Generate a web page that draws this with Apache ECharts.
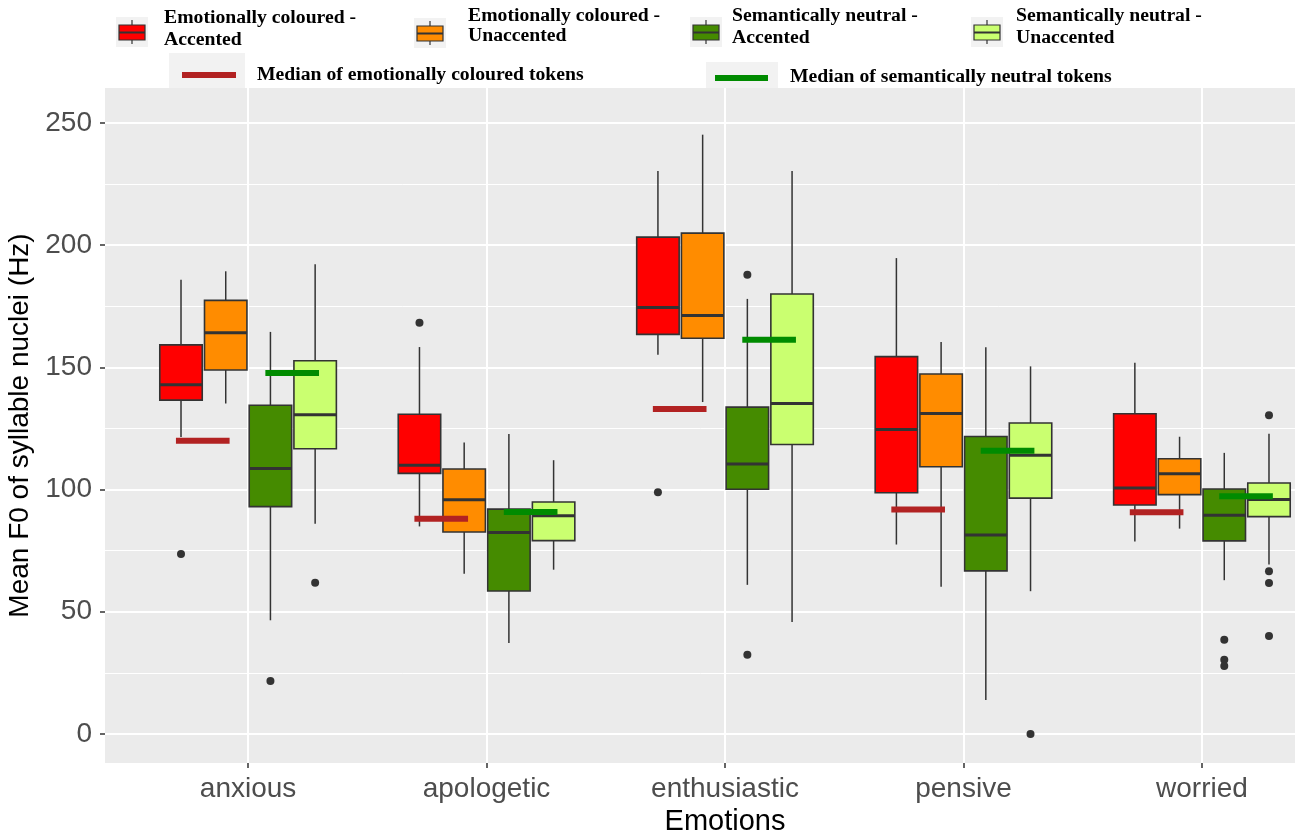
<!DOCTYPE html>
<html><head><meta charset="utf-8">
<script src="https://cdn.jsdelivr.net/npm/echarts@6/dist/echarts.min.js"></script>
<style>html,body{margin:0;padding:0;background:#fff}#c{width:1295px;height:834px}</style>
</head><body><div id="c"></div>
<script>
// ---------- data ----------
const categories = ['anxious', 'apologetic', 'enthusiastic', 'pensive', 'worried'];
const yTicks = [0, 50, 100, 150, 200, 250];
const yMinorTicks = [25, 75, 125, 175, 225];
const seriesNames = ['Emotionally coloured - Accented', 'Emotionally coloured - Unaccented',
                     'Semantically neutral - Accented', 'Semantically neutral - Unaccented'];
// [min, q1, median, q3, max] for each category
const emoAccented   = [[121.5,136.6,142.9,159.2,185.8],[84.9,106.6,109.9,130.8,158.3],[155.2,163.5,174.5,203.3,230.3],[77.5,98.7,124.6,154.4,194.7],[78.7,93.7,100.6,131.0,151.9]];
const emoUnaccented = [[135.2,148.9,164.2,177.4,189.3],[65.5,82.6,95.8,108.4,119.2],[135.8,161.9,171.2,204.9,245.2],[60.2,109.3,131.1,147.3,160.4],[84.0,97.9,106.5,112.6,121.6]];
const neuAccented   = [[46.5,93.0,108.6,134.5,164.5],[37.2,58.5,82.4,92.0,122.7],[61.0,100.1,110.4,133.7,178.0],[13.9,66.7,81.4,121.7,158.2],[62.9,79.0,89.5,100.2,115.0]];
const neuUnaccented = [[86.0,116.7,130.6,152.7,192.2],[67.2,79.1,89.3,94.9,112.0],[45.8,118.4,135.2,180.0,230.3],[58.4,96.5,114.0,127.2,150.4],[69.3,88.9,95.9,102.7,122.8]];
// outliers: [category index, value]
const emoAccentedOut   = [[0,73.6],[1,168.2],[2,98.9]];
const emoUnaccentedOut = [];
const neuAccentedOut   = [[0,21.7],[2,187.9],[2,32.4],[4,38.5],[4,30.3],[4,27.8]];
const neuUnaccentedOut = [[0,61.9],[3,0],[4,130.4],[4,66.6],[4,61.8],[4,40.1]];
// medians of tokens
const emoMedian = [120.0, 88.0, 133.0, 91.8, 90.7];
const neuMedian = [147.7, 90.8, 161.3, 115.9, 97.2];

// ---------- styling ----------
const boxColors = ['#FF0000', '#FF8C00', '#458B00', '#CAFF70'];
const dodge = [-0.28125, -0.09375, 0.09375, 0.28125];
const BOX_W = 0.178;
const MED_W = 0.225;
const INK = '#333333';

function boxRender(offset, color) {
  return function (params, api) {
    const x = api.value(0) + offset;
    const lo = api.coord([x, api.value(1)]);
    const q1 = api.coord([x, api.value(2)]);
    const md = api.coord([x, api.value(3)]);
    const q3 = api.coord([x, api.value(4)]);
    const hi = api.coord([x, api.value(5)]);
    const w = api.size([BOX_W, 0])[0];
    const cx = lo[0];
    return {
      type: 'group',
      children: [
        {type: 'line', shape: {x1: cx, y1: lo[1], x2: cx, y2: q1[1]}, style: {stroke: INK, lineWidth: 1.5}},
        {type: 'line', shape: {x1: cx, y1: hi[1], x2: cx, y2: q3[1]}, style: {stroke: INK, lineWidth: 1.5}},
        {type: 'rect', shape: {x: cx - w / 2, y: q3[1], width: w, height: q1[1] - q3[1]}, style: {fill: color, stroke: INK, lineWidth: 1.6}},
        {type: 'line', shape: {x1: cx - w / 2, y1: md[1], x2: cx + w / 2, y2: md[1]}, style: {stroke: INK, lineWidth: 3}}
      ]
    };
  };
}
function medRender(offset, color) {
  return function (params, api) {
    const a = api.coord([api.value(0) + offset - MED_W / 2, api.value(1)]);
    const b = api.coord([api.value(0) + offset + MED_W / 2, api.value(1)]);
    return {type: 'line', shape: {x1: a[0], y1: a[1], x2: b[0], y2: b[1]}, style: {stroke: color, lineWidth: 6}};
  };
}

const boxSets = [emoAccented, emoUnaccented, neuAccented, neuUnaccented];
const outSets = [emoAccentedOut, emoUnaccentedOut, neuAccentedOut, neuUnaccentedOut];

const series = [];
boxSets.forEach(function (set, k) {
  series.push({
    type: 'custom', name: seriesNames[k], xAxisIndex: 0, yAxisIndex: 0,
    renderItem: boxRender(dodge[k], boxColors[k]),
    encode: {x: 0, y: [1, 2, 3, 4, 5]},
    data: set.map(function (d, i) { return [i].concat(d); }),
    z: 3
  });
});
outSets.forEach(function (set, k) {
  series.push({
    type: 'scatter', name: seriesNames[k] + ' outliers', symbolSize: 8,
    itemStyle: {color: INK, opacity: 1},
    data: set.map(function (d) { return [d[0] + dodge[k], d[1]]; }),
    z: 4, silent: true
  });
});
series.push({
  type: 'custom', name: 'Median of emotionally coloured tokens',
  renderItem: medRender(-0.19, '#B22222'), encode: {x: 0, y: 1},
  data: emoMedian.map(function (v, i) { return [i, v]; }), z: 5
});
series.push({
  type: 'custom', name: 'Median of semantically neutral tokens',
  renderItem: medRender(0.185, '#008B00'), encode: {x: 0, y: 1},
  data: neuMedian.map(function (v, i) { return [i, v]; }), z: 5
});

const catIdx = categories.map(function (c, i) { return i; });
const SERIF = '"Liberation Serif", "Times New Roman", serif';
const SANS = '"Liberation Sans", Arial, sans-serif';

function key(x, y, color) {
  return [
    {type: 'rect', shape: {x: x, y: y, width: 32, height: 30}, style: {fill: '#F2F2F2'}},
    {type: 'line', shape: {x1: x + 16, y1: y + 3, x2: x + 16, y2: y + 27}, style: {stroke: INK, lineWidth: 1.2}},
    {type: 'rect', shape: {x: x + 3, y: y + 8, width: 26, height: 15}, style: {fill: color, stroke: INK, lineWidth: 1.2}},
    {type: 'line', shape: {x1: x + 3, y1: y + 15.5, x2: x + 29, y2: y + 15.5}, style: {stroke: INK, lineWidth: 2}}
  ];
}
function ltext(x, y, txt, lh) {
  return {type: 'text', x: x, y: y, style: {text: txt, font: 'bold 19.7px ' + SERIF, fill: '#000', textVerticalAlign: 'middle', lineHeight: lh}};
}
const graphics = [].concat(
  key(116, 17, boxColors[0]), [ltext(164, 29, 'Emotionally coloured -\nAccented', 22)],
  key(414, 18, boxColors[1]), [ltext(468, 26, 'Emotionally coloured -\nUnaccented', 20)],
  key(690, 17, boxColors[2]), [ltext(732, 27, 'Semantically neutral -\nAccented', 22)],
  key(971, 17, boxColors[3]), [ltext(1016, 27, 'Semantically neutral -\nUnaccented', 22)],
  [
    {type: 'rect', shape: {x: 169, y: 53, width: 76, height: 35}, style: {fill: '#F2F2F2'}},
    {type: 'line', shape: {x1: 182, y1: 75, x2: 236, y2: 75}, style: {stroke: '#B22222', lineWidth: 6}},
    ltext(257, 75, 'Median of emotionally coloured tokens', 20),
    {type: 'rect', shape: {x: 706, y: 62, width: 72, height: 26}, style: {fill: '#F2F2F2'}},
    {type: 'line', shape: {x1: 715, y1: 78, x2: 768, y2: 78}, style: {stroke: '#008B00', lineWidth: 6}},
    ltext(790, 77, 'Median of semantically neutral tokens', 20)
  ]
);

const chart = echarts.init(document.getElementById('c'), null, {renderer: 'canvas'});
chart.setOption({
  animation: false,
  backgroundColor: '#ffffff',
  grid: {left: 105, top: 88, right: -50, bottom: 71, show: true, backgroundColor: '#EBEBEB', borderWidth: 0,
         containLabel: false, outerBoundsMode: 'none'},
  xAxis: {
    type: 'value', min: -0.6, max: 4.6,
    name: 'Emotions', nameLocation: 'middle', nameGap: 44,
    nameTextStyle: {fontFamily: SANS, fontSize: 29, color: '#000'},
    axisLine: {show: false, onZero: false},
    axisTick: {show: true, length: 5, customValues: catIdx, lineStyle: {color: INK, width: 1.5}},
    axisLabel: {customValues: catIdx, margin: 12, fontFamily: SANS, fontSize: 28, color: '#4D4D4D',
      formatter: function (v) { return categories[Math.round(v)]; }},
    splitLine: {show: true, lineStyle: {color: '#FFFFFF', width: 2}}
  },
  yAxis: [{
    type: 'value', min: -11.9, max: 264.3, position: 'left',
    name: 'Mean F0 of syllable nuclei (Hz)', nameLocation: 'middle', nameGap: 68,
    nameTextStyle: {fontFamily: SANS, fontSize: 28, color: '#000'},
    axisLine: {show: false, onZero: false},
    axisTick: {show: true, length: 5, customValues: yTicks, lineStyle: {color: INK, width: 1.5}},
    axisLabel: {customValues: yTicks, margin: 13, fontFamily: SANS, fontSize: 28, color: '#4D4D4D'},
    splitLine: {show: true, lineStyle: {color: '#FFFFFF', width: 2}}
  }, {
    type: 'value', min: -11.9, max: 264.3, position: 'left',
    axisLine: {show: false, onZero: false},
    axisTick: {show: false, customValues: yMinorTicks},
    axisLabel: {show: false, customValues: yMinorTicks},
    splitLine: {show: true, lineStyle: {color: '#FFFFFF', width: 1}}
  }],
  series: series,
  graphic: graphics
});
</script></body></html>
